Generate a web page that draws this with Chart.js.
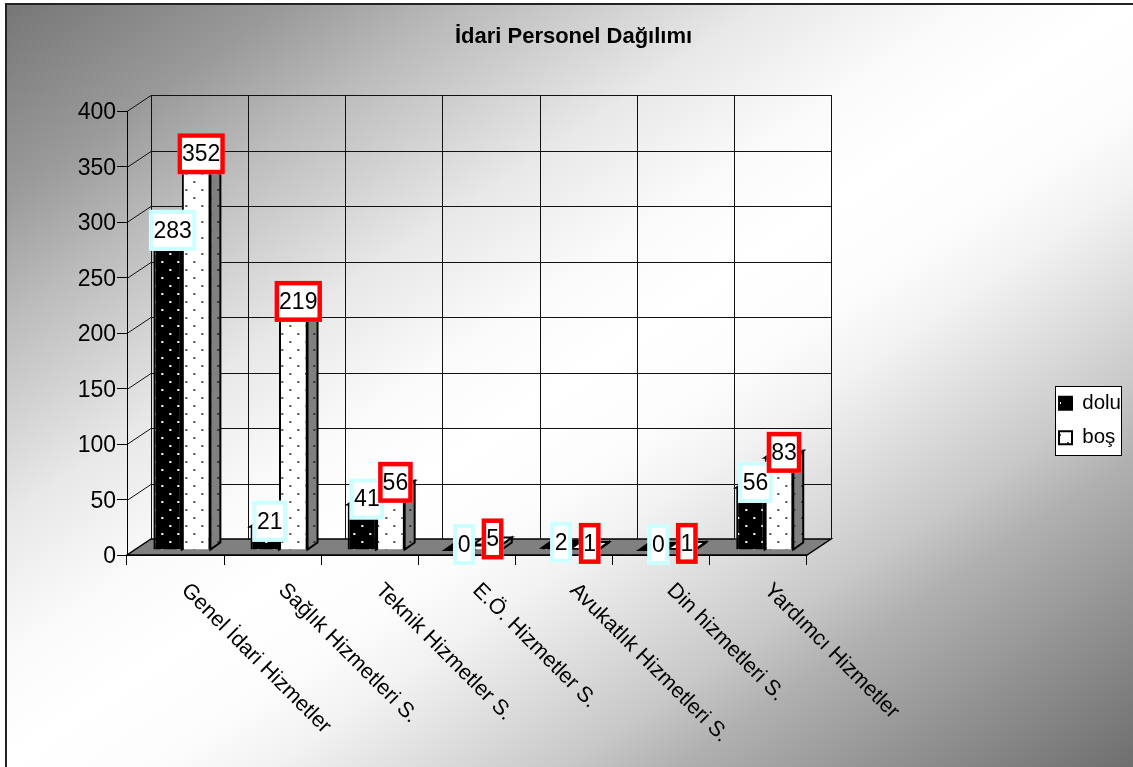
<!DOCTYPE html>
<html>
<head>
<meta charset="utf-8">
<style>
  html, body { margin: 0; padding: 0; background: #fff; }
  #wrap { position: absolute; left: 0; top: 0; width: 1133px; height: 767px; }
</style>
<script src="https://cdn.jsdelivr.net/npm/chart.js@4"></script>
</head>
<body>
<div id="wrap"><canvas id="personelChart" width="1133" height="767"></canvas></div>
<script>
const categories = ['Genel İdari Hizmetler', 'Sağlık Hizmetleri S.', 'Teknik Hizmetler S.', 'E.Ö. Hizmetler S.', 'Avukatlık Hizmetleri S.', 'Din hizmetleri S.', 'Yardımcı Hizmetler'];
const dolu = [283, 21, 41, 0, 2, 0, 56];
const bos = [352, 219, 56, 5, 1, 1, 83];

const font = 'Arial, "Liberation Sans", sans-serif';
const wall = { dx: 24, dy: -16 };   // depth of the whole 3D box
const barShift = { dx: 6.3, dy: -5 };   // bars stand in the middle of the floor
const barDepth = { dx: 10, dy: -7 };

function dots(bg, color) {
  const c = document.createElement('canvas');
  c.width = 16; c.height = 16;
  const g = c.getContext('2d');
  g.fillStyle = bg;
  g.fillRect(0, 0, 16, 16);
  g.fillStyle = color;
  g.fillRect(3, 2, 2, 2);
  g.fillRect(11, 10, 2, 2);
  return g.createPattern(c, 'repeat');
}

const blackDots = dots('#000', '#fff');
const whiteDots = dots('#fff', '#555');
const sideDots = dots('#808080', '#333');

function poly(ctx, pts, fill, line, lw) {
  ctx.beginPath();
  pts.forEach((p, i) => i ? ctx.lineTo(p[0], p[1]) : ctx.moveTo(p[0], p[1]));
  ctx.closePath();
  if (fill) { ctx.fillStyle = fill; ctx.fill(); }
  if (line) { ctx.strokeStyle = line; ctx.lineWidth = lw || 1; ctx.stroke(); }
}

const box3d = {
  id: 'box3d',
  beforeDraw(chart) {
    const ctx = chart.ctx;
    const W = chart.width, H = chart.height;
    ctx.save();
    ctx.fillStyle = '#fff';
    ctx.fillRect(0, 0, W, H);
    // wide white band through the bottom-left and top-right corners
    const g = ctx.createLinearGradient(211, -142, 921, 908);
    g.addColorStop(0, '#757575');
    g.addColorStop(0.13, '#9a9a9a');
    g.addColorStop(0.21, '#bbbbbb');
    g.addColorStop(0.34, '#e8e8e8');
    g.addColorStop(0.43, '#fafafa');
    g.addColorStop(0.5, '#ffffff');
    g.addColorStop(0.57, '#fcfcfc');
    g.addColorStop(0.62, '#f2f2f2');
    g.addColorStop(0.75, '#c8c8c8');
    g.addColorStop(0.8, '#b0b0b0');
    g.addColorStop(0.89, '#929292');
    g.addColorStop(1, '#6f6f6f');
    ctx.fillStyle = g;
    ctx.fillRect(5, 3, W - 5, H - 3);
    ctx.strokeStyle = '#222';
    ctx.lineWidth = 2;
    ctx.beginPath();
    ctx.moveTo(6, H);
    ctx.lineTo(6, 4);
    ctx.lineTo(W, 4);
    ctx.stroke();

    const y = chart.scales.y;
    const a = chart.chartArea;
    // walls
    ctx.strokeStyle = '#111';
    ctx.lineWidth = 1;
    ctx.beginPath();
    y.ticks.forEach(t => {
      const py = Math.round(y.getPixelForValue(t.value)) + 0.5;
      ctx.moveTo(a.left, py);
      ctx.lineTo(a.left + wall.dx, py + wall.dy);
      ctx.lineTo(a.right + wall.dx, py + wall.dy);
    });
    for (let i = 0; i <= categories.length; i++) {
      const px = Math.round(a.left + (a.right - a.left) * i / categories.length + wall.dx) + 0.5;
      ctx.moveTo(px, a.top + wall.dy);
      ctx.lineTo(px, a.bottom + wall.dy);
    }
    ctx.stroke();
    // floor
    poly(ctx, [[a.left, a.bottom], [a.right, a.bottom], [a.right + wall.dx, a.bottom + wall.dy], [a.left + wall.dx, a.bottom + wall.dy]], '#808080', '#000', 1.5);

    // legend frame
    ctx.fillStyle = '#fff';
    ctx.fillRect(1055, 386, 66, 69);
    ctx.strokeStyle = '#000';
    ctx.lineWidth = 1;
    ctx.strokeRect(1055.5, 386.5, 66, 69);
    ctx.restore();
  },
  beforeDatasetsDraw(chart) {
    const ctx = chart.ctx;
    ctx.save();
    ctx.translate(barShift.dx, barShift.dy);
    // depth faces first so the fronts cover them
    [0, 1].forEach(d => {
      chart.getDatasetMeta(d).data.forEach(bar => {
        const l = bar.x - bar.width / 2, r = bar.x + bar.width / 2;
        const t = bar.y, b = bar.base;
        poly(ctx, [[r, t], [r + barDepth.dx, t + barDepth.dy], [r + barDepth.dx, b + barDepth.dy], [r, b]], sideDots, '#000', 2);
        poly(ctx, [[l, t], [l + barDepth.dx, t + barDepth.dy], [r + barDepth.dx, t + barDepth.dy], [r, t]], d ? whiteDots : blackDots, '#000', 2);
      });
    });
  },
  afterDatasetsDraw(chart) {
    chart.ctx.restore();
  },
  afterDraw(chart) {
    const ctx = chart.ctx;
    const x = chart.scales.x;
    ctx.save();
    // category labels run down to the right
    ctx.font = '21.5px ' + font;
    ctx.fillStyle = '#000';
    ctx.textAlign = 'left';
    ctx.textBaseline = 'middle';
    categories.forEach((c, i) => {
      ctx.save();
      ctx.translate(x.getPixelForTick(i) + 9, 587);
      ctx.rotate(45 * Math.PI / 180);
      ctx.fillText(c, 0, 0);
      ctx.restore();
    });
    // value labels
    ctx.font = '23px ' + font;
    ctx.textAlign = 'center';
    [[0, '#ccffff', 4], [1, '#ff0000', 4.5]].forEach(([d, color, lw]) => {
      chart.getDatasetMeta(d).data.forEach((bar, i) => {
        const v = String(chart.data.datasets[d].data[i]);
        const cx = bar.x + barShift.dx + 5;
        const cy = bar.y + barShift.dy - 5.5;
        const w = ctx.measureText(v).width + 9, h = 41;
        ctx.fillStyle = '#fff';
        ctx.fillRect(cx - w / 2, cy - h / 2, w, h);
        ctx.strokeStyle = color;
        ctx.lineWidth = lw;
        ctx.strokeRect(cx - w / 2 + lw / 2, cy - h / 2 + lw / 2, w - lw, h - lw);
        ctx.fillStyle = '#000';
        ctx.fillText(v, cx, cy + 1);
      });
    });
    ctx.restore();
  },
  afterLayout(chart) {
    // legend and title do not take the place the layout gives them
    const l = chart.legend;
    l.left = 1045; l.right = 1125; l.top = 379; l.bottom = 500;
    const t = chart.titleBlock;
    t.left += 127; t.right += 127;
  }
};

new Chart(document.getElementById('personelChart'), {
  type: 'bar',
  data: {
    labels: categories,
    datasets: [
      { label: 'dolu', data: dolu, backgroundColor: blackDots, borderColor: '#000', borderWidth: 2 },
      { label: 'boş', data: bos, backgroundColor: whiteDots, borderColor: '#000', borderWidth: 2 }
    ]
  },
  options: {
    responsive: false,
    animation: false,
    events: [],
    layout: { padding: { left: 0, right: 240, top: 0, bottom: 0 } },
    datasets: { bar: { categoryPercentage: 0.587, barPercentage: 1 } },
    scales: {
      x: {
        grid: { display: true, drawOnChartArea: false, color: '#000', tickLength: 10 },
        border: { display: true, color: '#000' },
        ticks: { display: false },
        afterFit: s => { s.height = 212; }
      },
      y: {
        min: 0,
        max: 400,
        grid: { display: true, drawOnChartArea: false, color: '#000', tickLength: 10 },
        border: { display: true, color: '#000' },
        ticks: { stepSize: 50, color: '#000', padding: 1, labelOffset: 2, font: { family: font, size: 23 } },
        afterFit: s => { s.width = 127; }
      }
    },
    plugins: {
      tooltip: { enabled: false },
      title: {
        display: true,
        text: 'İdari Personel Dağılımı',
        color: '#000',
        padding: { top: 24, bottom: 60.6 },
        font: { family: font, size: 22, weight: 'bold' }
      },
      legend: {
        position: 'right',
        align: 'start',
        labels: {
          color: '#000',
          font: { family: font, size: 20.5 },
          boxWidth: 13,
          boxHeight: 13,
          padding: 14
        }
      }
    }
  },
  plugins: [box3d]
});
</script>
</body>
</html>
